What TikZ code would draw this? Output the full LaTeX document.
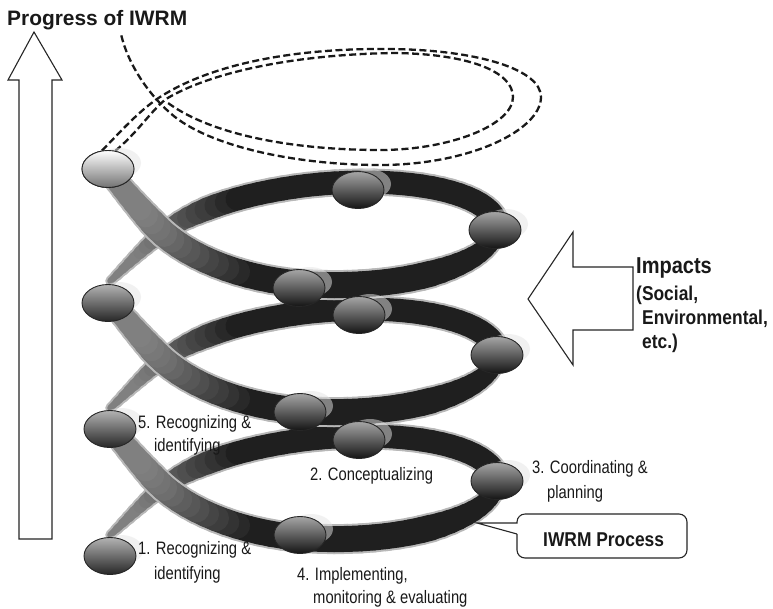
\documentclass[tikz,border=0pt]{standalone}
\usepackage{fontspec}
\setmainfont{Liberation Sans}
\newfontfamily\labelfont[FakeStretch=0.82]{Liberation Sans}
\newfontfamily\headfont[FakeStretch=0.87]{Liberation Sans}
\usetikzlibrary{shapes.geometric}

\tikzset{
  stagenode/.style={ellipse, draw=black!85, line width=0.9pt, minimum width=52pt,
    minimum height=37pt, inner sep=0pt, top color=black!35, bottom color=black!92},
  stageleft/.style={stagenode, top color=black!30, bottom color=black!85},
  stagetop/.style={stagenode, top color=white, bottom color=black!55},
  halo/.style={fill=black!10, opacity=0.5},
  steplabel/.style={font=\labelfont\fontsize{18pt}{25pt}\selectfont, anchor=base west,
    inner sep=0pt, text=black!90},
  sidelabel/.style={font=\headfont\bfseries\fontsize{20pt}{26pt}\selectfont, anchor=base west,
    inner sep=0pt, text=black!90},
  hollowarrow/.style={draw=black!85, line width=1.1pt, fill=white, line join=miter},
  futureloop/.style={draw=black!90, line width=2.3pt, dash pattern=on 7pt off 3.5pt},
  calloutline/.style={draw=black!85, line width=1.1pt},
}

% One pass over the three turns of the helix band.
% #1 start angle (180 = rear half, 0 = front half), #2 extra width, #3 1 = core, 0 = soft rim
\newcommand\helixpass[3]{%
  \foreach \loopk in {0,1,2}{%
    \foreach \seg in {0,...,44}{%
      \pgfmathsetmacro\pa{#1-4*\seg}%
      \pgfmathsetmacro\pb{\pa-4}%
      \pgfmathsetmacro\pmid{\pa-2}%
      \pgfmathsetmacro\xa{hx(\pa)}%
      \pgfmathsetmacro\ya{hy(\pa,\loopk)}%
      \pgfmathsetmacro\xb{hx(\pb)}%
      \pgfmathsetmacro\yb{hy(\pb,\loopk)}%
      \pgfmathsetmacro\wid{(#1>90 ? min(23,6+(180-\pmid)*0.3) : min(26,14-0.24*\pmid)-max(0,(-\pmid-150)/5)) + #2}%
      \pgfmathtruncatemacro\lev{#3>0 ? 50+38*min(1,max(0,((\xa+\xb)/2-140)/100)) : 28}%
      \draw[line width=\wid pt, line cap=round, black!\lev] (\xa,\ya) -- (\xb,\yb);%
    }%
  }%
}

\begin{document}
\begin{tikzpicture}[x=1pt, y=-1pt,
  declare function={
    hleft(\v) = (\v<=60) ? sin(\v) : 0.866+0.008727*(\v-60);
    hx(\p) = (cos(\p)>=0) ? 300+197*cos(\p) : 300-168*hleft(abs(\p)-90);
    hlift(\p) = max(0,(\p-90)/90)*sqrt(max(0,(\p-90)/90));
    hy(\p,\k) = 550-127*(\k+(180-\p)/360)-(80.5-2.5*sin(\p))*sin(\p)-5*cos(\p)-20*hlift(\p);
  }]
\useasboundingbox (0,0) rectangle (773,608);
\fill[white] (0,0) rectangle (773,608);

% progress arrow
\draw[hollowarrow] (19,539) -- (19,80) -- (8,80) -- (34,32) -- (62,80) -- (52,80) -- (52,539) -- cycle;
\node[sidelabel, font=\bfseries\fontsize{20.9pt}{24pt}\selectfont] (title) at (7,25) {Progress of IWRM};

% impacts arrow
\draw[hollowarrow] (633,267) -- (573,267) -- (573,232) -- (528,299) -- (573,365) -- (573,330) -- (633,330) -- cycle;
\node[sidelabel, font=\headfont\bfseries\fontsize{23pt}{26pt}\selectfont] (imp1) at (636,273) {Impacts};
\node[sidelabel] (imp2) at (636,300) {(Social,};
\node[sidelabel] (imp3) at (642,324) {Environmental,};
\node[sidelabel] (imp4) at (642,348) {etc.)};

% helix band: rear halves, then front halves
\helixpass{180}{4}{0}
\helixpass{180}{0}{1}
\helixpass{0}{4}{0}
\helixpass{0}{0}{1}

% dashed turns still to come
\node[stagetop] (top) at (108,169) {};
\draw[futureloop] (top.108) .. controls (122,130) and (140,110) .. (160,97)
  .. controls (215,62) and (300,48) .. (390,49)
  .. controls (480,50) and (541,70) .. (541,97)
  .. controls (541,130) and (470,165) .. (380,165)
  .. controls (300,165) and (215,148) .. (175,117)
  .. controls (150,97) and (128,65) .. (121,34);
\draw[futureloop] (top.68) .. controls (138,132) and (150,112) .. (166,99)
  .. controls (218,68) and (310,54) .. (395,53)
  .. controls (470,54) and (513,72) .. (513,97)
  .. controls (513,125) and (450,150) .. (380,150)
  .. controls (300,150) and (215,137) .. (168,103);

% stage nodes
\foreach \hx/\hy in {108/169,108/303,110/429,110/556,358/190,495/230,299/288,359/315,497/355,300/412,359/440,497/481,300/535}
  \fill[halo] (\hx+11,\hy-6) ellipse [x radius=22, y radius=15];
\node[stagetop] (top) at (108,169) {};
\node[stageleft] (left3) at (108,303) {};
\node[stageleft] (s5) at (110,429) {};
\node[stageleft] (s1) at (110,556) {};
\node[stagenode] (back3) at (358,190) {};
\node[stagenode] (right3) at (495,230) {};
\node[stagenode] (front3) at (299,288) {};
\node[stagenode] (back2) at (359,315) {};
\node[stagenode] (right2) at (497,355) {};
\node[stagenode] (front2) at (300,412) {};
\node[stagenode] (s2) at (359,440) {};
\node[stagenode] (s3) at (497,481) {};
\node[stagenode] (s4) at (300,535) {};

% stage labels
\node[steplabel] (l5a) at (138,428) {5. Recognizing \&};
\node[steplabel] (l5b) at (154,451) {identifying};
\node[steplabel] (l1a) at (138,554) {1. Recognizing \&};
\node[steplabel] (l1b) at (154,579) {identifying};
\node[steplabel] (l2) at (310,480) {2. Conceptualizing};
\node[steplabel] (l3a) at (532,473) {3. Coordinating \&};
\node[steplabel] (l3b) at (547,498) {planning};
\node[steplabel] (l4a) at (297,580) {4. Implementing,};
\node[steplabel] (l4b) at (313,603) {monitoring \& evaluating};

% process callout
\node[sidelabel] (proc) at (543,546) {IWRM Process};
\coordinate (ptip) at (477,523);
\draw[calloutline] (517,534) -- (ptip) -- (517,523) [rounded corners=8pt] -- (517,514) -- (687,514)
  -- (687,558) -- (517,558) -- (517,534);
\end{tikzpicture}
\end{document}
